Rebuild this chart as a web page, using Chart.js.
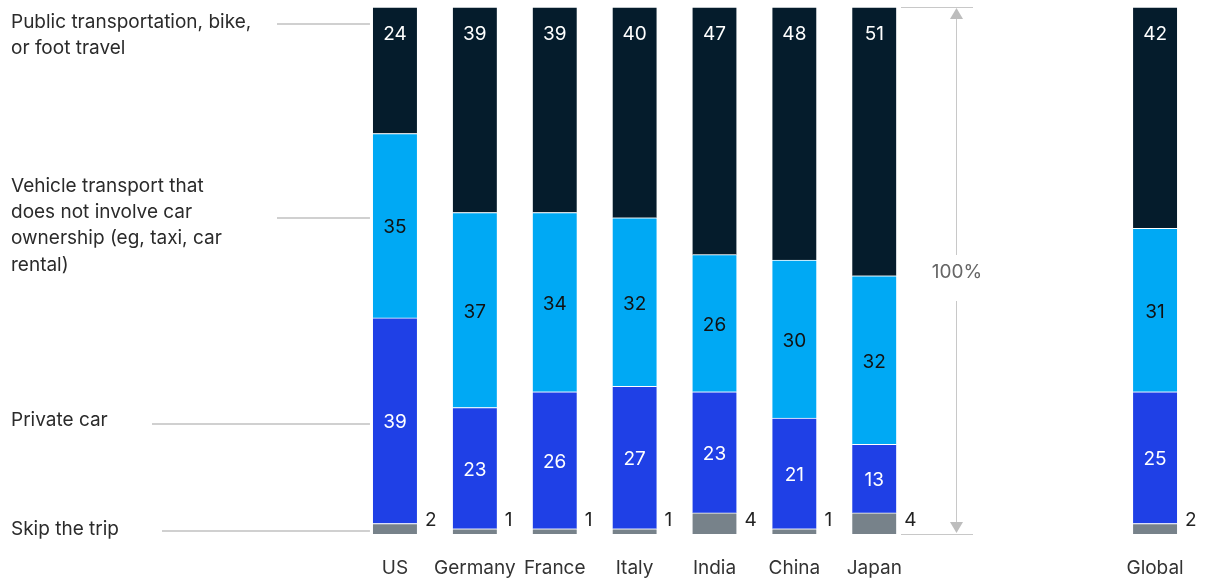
<!DOCTYPE html>
<html>
<head>
<meta charset="utf-8">
<script src="https://cdn.jsdelivr.net/npm/chart.js@4.4.0/dist/chart.umd.min.js"></script>
<style>
  html, body { margin: 0; padding: 0; background: #fff; }
  #wrap { width: 1207px; height: 581px; position: relative; }
</style>
</head>
<body>
<div id="wrap"><canvas id="chart"></canvas></div>
<script>
const categories = ['US', 'Germany', 'France', 'Italy', 'India', 'China', 'Japan', 'Global'];
const skipTrip = [2, 1, 1, 1, 4, 1, 4, 2];
const privateCar = [39, 23, 26, 27, 23, 21, 13, 25];
const vehicleNoOwnership = [35, 37, 34, 32, 26, 30, 32, 31];
const publicBikeFoot = [24, 39, 39, 40, 47, 48, 51, 42];

const seriesNames = [
  'Skip the trip',
  'Private car',
  'Vehicle transport that does not involve car ownership (eg, taxi, car rental)',
  'Public transportation, bike, or foot travel'
];

// Global sits apart from the countries
const xPos = categories.map((c, i) => i < 7 ? i : i + 2.515);

const FONT = 'Inter, "Liberation Sans", Arial, sans-serif';
const FS = 19;

function pts(values) {
  return values.map((v, i) => ({ x: xPos[i], y: v }));
}

function ds(label, values, color) {
  return {
    label,
    data: pts(values),
    backgroundColor: color,
    borderColor: '#ffffff',
    borderWidth: { top: 1 },
    borderSkipped: false,
    barThickness: 44
  };
}

const overlay = {
  id: 'overlay',
  afterDatasetsDraw(chart) {
    const ctx = chart.ctx;
    const y = chart.scales.y;
    ctx.save();
    ctx.font = FS + 'px ' + FONT;
    ctx.textBaseline = 'middle';

    // value labels
    const textColors = ['#222', '#fff', '#111', '#fff'];
    chart.data.datasets.forEach((d, di) => {
      const meta = chart.getDatasetMeta(di);
      meta.data.forEach((bar, i) => {
        const v = d.data[i].y;
        ctx.fillStyle = textColors[di];
        if (di === 0) {
          ctx.textAlign = 'left';
          ctx.fillText(v, bar.x + bar.width / 2 + 8, y.getPixelForValue(2.6));
        } else if (di === 3) {
          ctx.textAlign = 'center';
          ctx.fillText(v, bar.x, bar.y + 27);
        } else {
          ctx.textAlign = 'center';
          ctx.fillText(v, bar.x, (bar.y + bar.base) / 2 + 2);
        }
      });
    });

    // left series labels with leader lines
    const left = [
      { lines: ['Public transportation, bike,', 'or foot travel'], ty: 22, ly: 24, lx: 277 },
      { lines: ['Vehicle transport that', 'does not involve car', 'ownership (eg, taxi, car', 'rental)'], ty: 186, ly: 218, lx: 277 },
      { lines: ['Private car'], ty: 420, ly: 424, lx: 152 },
      { lines: ['Skip the trip'], ty: 529, ly: 531, lx: 162 }
    ];
    const barLeft = chart.getDatasetMeta(0).data[0].x - 22;
    left.forEach(l => {
      ctx.fillStyle = '#2b2b2b';
      ctx.textAlign = 'left';
      l.lines.forEach((t, k) => ctx.fillText(t, 11, l.ty + k * 26.3));
      ctx.strokeStyle = '#d0d0d0';
      ctx.lineWidth = 2;
      ctx.beginPath();
      ctx.moveTo(l.lx, l.ly);
      ctx.lineTo(barLeft - 3, l.ly);
      ctx.stroke();
    });

    // 100% bracket
    const top = y.getPixelForValue(100);
    const bot = y.getPixelForValue(0);
    const bx = 956;
    ctx.strokeStyle = '#c8c8c8';
    ctx.lineWidth = 1;
    ctx.beginPath();
    ctx.moveTo(901, top + 0.5); ctx.lineTo(973, top + 0.5);
    ctx.moveTo(901, bot + 0.5); ctx.lineTo(973, bot + 0.5);
    ctx.moveTo(bx + 0.5, top + 10); ctx.lineTo(bx + 0.5, 255);
    ctx.moveTo(bx + 0.5, 301); ctx.lineTo(bx + 0.5, bot - 10);
    ctx.stroke();
    ctx.fillStyle = '#bdbdbd';
    ctx.beginPath();
    ctx.moveTo(bx + 0.5, top + 1); ctx.lineTo(bx - 6, top + 12); ctx.lineTo(bx + 7, top + 12);
    ctx.closePath(); ctx.fill();
    ctx.beginPath();
    ctx.moveTo(bx + 0.5, bot - 1); ctx.lineTo(bx - 6, bot - 12); ctx.lineTo(bx + 7, bot - 12);
    ctx.closePath(); ctx.fill();
    ctx.fillStyle = '#666';
    ctx.textAlign = 'center';
    ctx.fillText('100%', bx + 1, 272);
    ctx.restore();
  }
};

new Chart(document.getElementById('chart'), {
  type: 'bar',
  data: {
    datasets: [
      ds(seriesNames[0], skipTrip, '#77828a'),
      ds(seriesNames[1], privateCar, '#1f40e6'),
      ds(seriesNames[2], vehicleNoOwnership, '#00a9f4'),
      ds(seriesNames[3], publicBikeFoot, '#051c2c')
    ]
  },
  options: {
    responsive: true,
    maintainAspectRatio: false,
    animation: false,
    layout: { padding: { left: 355, right: 8, top: 7, bottom: 2 } },
    plugins: { legend: { display: false }, tooltip: { enabled: false } },
    scales: {
      x: {
        type: 'linear',
        stacked: true,
        offset: false,
        min: -0.5,
        max: 9.89,
        grid: { display: false, drawTicks: false },
        border: { display: false },
        afterBuildTicks(scale) { scale.ticks = xPos.map(v => ({ value: v })); },
        afterFit(scale) { scale.height = 45; },
        ticks: {
          autoSkip: false,
          maxRotation: 0,
          padding: 23,
          color: '#333',
          font: { family: FONT, size: FS },
          callback: (v) => categories[xPos.indexOf(v)]
        }
      },
      y: {
        stacked: true,
        display: false,
        min: 0,
        max: 100
      }
    }
  },
  plugins: [overlay]
});
</script>
</body>
</html>
